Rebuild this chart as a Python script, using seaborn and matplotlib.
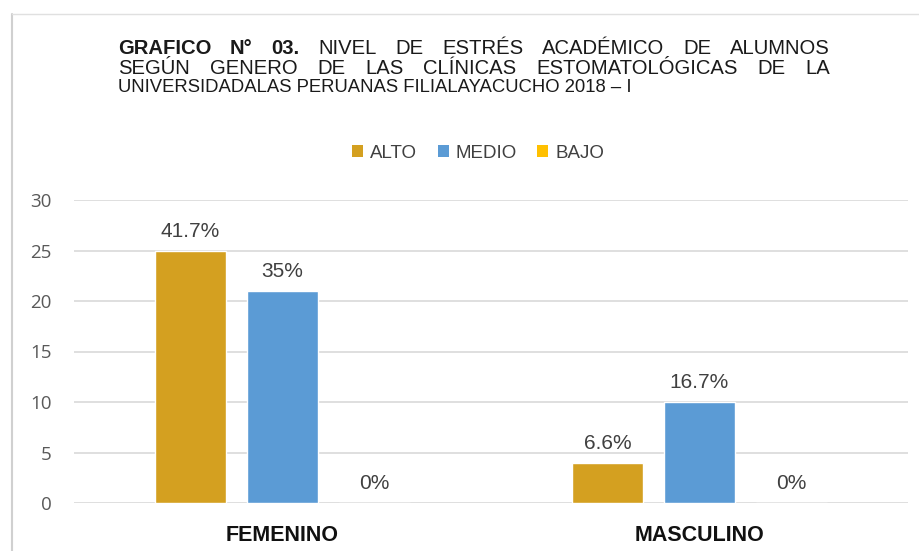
import matplotlib
matplotlib.use("Agg")
import matplotlib.pyplot as plt
import seaborn as sns
import pandas as pd
from matplotlib.patches import Patch
from matplotlib.lines import Line2D

# ---- data ----
categories = ["FEMENINO", "MASCULINO"]
levels = ["ALTO", "MEDIO", "BAJO"]
alto = [25, 4]
medio = [21, 10]
bajo = [0, 0]
labels_alto = ["41.7%", "6.6%"]
labels_medio = ["35%", "16.7%"]
labels_bajo = ["0%", "0%"]
yticks = [0, 5, 10, 15, 20, 25, 30]
colors = ["#D4A020", "#5B9BD5", "#FFC000"]

title_bold = "GRAFICO N° 03."
title_line1 = "NIVEL DE ESTRÉS ACADÉMICO DE ALUMNOS"
title_line2 = "SEGÚN GENERO DE LAS CLÍNICAS ESTOMATOLÓGICAS DE LA"
title_line3 = "UNIVERSIDADALAS PERUANAS FILIALAYACUCHO 2018 – I"

rows = []
for lvl, vals in zip(levels, [alto, medio, bajo]):
    for c, v in zip(categories, vals):
        rows.append({"cat": c, "nivel": lvl, "n": v})
df = pd.DataFrame(rows)
lab_map = {"ALTO": labels_alto, "MEDIO": labels_medio, "BAJO": labels_bajo}

sns.set_theme(style="white")
plt.rcParams["font.family"] = ["Liberation Sans", "DejaVu Sans"]

W, H = 920, 551
fig = plt.figure(figsize=(W / 100, H / 100), dpi=100)
fig.patch.set_facecolor("white")
ax = fig.add_axes([74 / W, 1 - 503 / H, (908 - 74) / W, (503 - 200) / H])

sns.barplot(data=df, x="cat", y="n", hue="nivel", hue_order=levels,
            order=categories, palette=colors, width=0.662, gap=0.22,
            ax=ax, legend=False, saturation=1, errorbar=None)

ax.set_ylim(0, 30)
ax.set_xlim(-0.5, 1.5)
ax.set_yticks(yticks)
ax.set_yticklabels([str(t) for t in yticks], color="#595959", fontsize=13.5,
                   family=["Open Sans", "DejaVu Sans"])
ax.tick_params(axis="y", length=0, pad=16)
ax.tick_params(axis="x", length=0, pad=16)
ax.set_xticks([0, 1])
ax.set_xticklabels(categories, fontsize=15.5, fontweight="bold", color="#111111")
ax.set_xlabel("")
ax.set_ylabel("")
ax.yaxis.grid(True, color="#D9D9D9", linewidth=1.2)
ax.set_axisbelow(True)
for s in ax.spines.values():
    s.set_visible(False)

for container, lvl in zip(ax.containers, levels):
    labs = lab_map[lvl]
    for bar, lab in zip(container, labs):
        ax.annotate(lab, (bar.get_x() + bar.get_width() / 2, bar.get_height()),
                    xytext=(0, 7), textcoords="offset points",
                    ha="center", va="bottom", fontsize=15, color="#404040")

# legend
handles = [Patch(facecolor=c, edgecolor="none", label=l) for c, l in zip(colors, levels)]
fig.legend(handles=handles, loc="center", bbox_to_anchor=(478 / W, 1 - 153 / H),
           ncol=3, frameon=False, fontsize=13.5, handlelength=0.6, handleheight=0.6,
           handletextpad=0.35, columnspacing=1.1, labelcolor="#404040")

# title (justified lines 1 and 2)
tsize = 14.6
fig.canvas.draw()
r = fig.canvas.get_renderer()
x0, x1 = 118, 830


def justified(words_spec, ypix):
    arts = []
    for w, wt in words_spec:
        t = fig.text(0, 1 - ypix / H, w, fontsize=tsize, fontweight=wt,
                     color="#1a1a1a", va="center", ha="left")
        arts.append(t)
    widths = [a.get_window_extent(renderer=r).width for a in arts]
    gap = ((x1 - x0) - sum(widths)) / (len(arts) - 1)
    x = x0
    for a, wd in zip(arts, widths):
        a.set_x(x / W)
        x += wd + gap


spec1 = [(w, "bold") for w in title_bold.split()] + [(w, "normal") for w in title_line1.split()]
justified(spec1, 48)
justified([(w, "normal") for w in title_line2.split()], 68)
fig.text(x0 / W, 1 - 88 / H, title_line3, fontsize=13.3, color="#1a1a1a",
         va="center", ha="left")

# frame lines
fig.add_artist(Line2D([12 / W, 12 / W], [0, 1 - 14 / H], transform=fig.transFigure,
                      color="#D0D0D0", linewidth=1.5))
fig.add_artist(Line2D([12 / W, 1], [1 - 14 / H, 1 - 14 / H], transform=fig.transFigure,
                      color="#E0E0E0", linewidth=1.0))

fig.savefig("out.png", dpi=100, facecolor="white")
